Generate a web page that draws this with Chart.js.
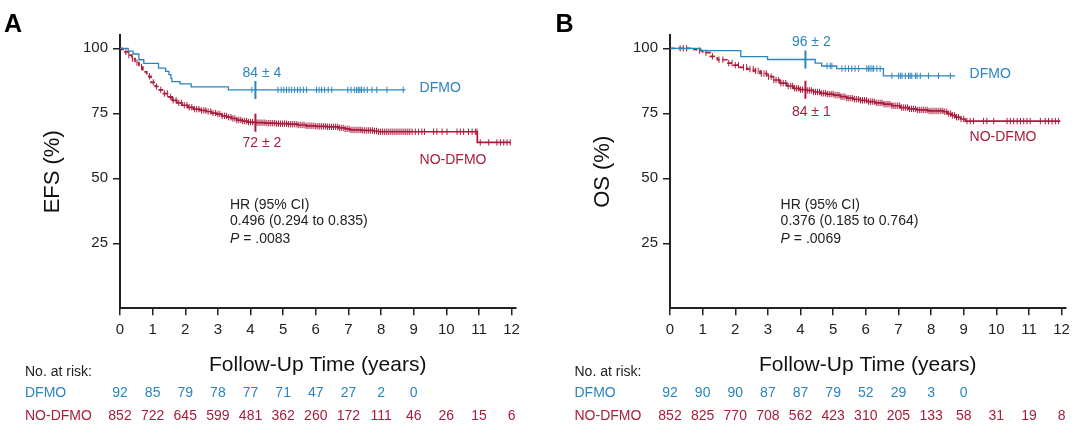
<!DOCTYPE html>
<html>
<head>
<meta charset="utf-8">
<script src="https://cdn.jsdelivr.net/npm/chart.js@4.4.1/dist/chart.umd.min.js"></script>
<style>
    body { margin: 0; background: #fff; width: 1080px; height: 436px; overflow: hidden; position: relative; }
    canvas { position: absolute; top: 0; }
    #chart-efs { left: 0; }
    #chart-os { left: 540px; }
</style>
</head>
<body>
<canvas id="chart-efs" width="540" height="436"></canvas>
<canvas id="chart-os" width="540" height="436"></canvas>
<script>
// axis ticks / risk table time points
const xTicks = [0, 1, 2, 3, 4, 5, 6, 7, 8, 9, 10, 11, 12];
const yTicks = [25, 50, 75, 100];
const riskTimes = [0, 1, 2, 3, 4, 5, 6, 7, 8, 9, 10, 11, 12];
const markerTime = 4.15;

// A: event-free survival, DFMO
const efsDfmoTimes = [0, 0.25, 0.40, 0.58, 0.73, 1.18, 1.40, 1.50, 1.56, 1.59, 1.84, 2.18, 3.32];
const efsDfmoSurv = [100, 98.9, 97.8, 95.6, 94.2, 92.4, 91.1, 89.9, 88.4, 87.2, 86.3, 85.2, 84.0];
const efsDfmoEnd = 8.75;
const efsDfmoCensor = [4.04, 4.84, 4.94, 5.02, 5.10, 5.18, 5.26, 5.35, 5.44, 5.52, 5.62, 5.72,
    6.02, 6.10, 6.18, 6.27, 6.38, 6.49, 6.98, 7.08, 7.18, 7.25, 7.30, 7.35, 7.40, 7.48, 7.58,
    7.72, 7.87, 8.18, 8.68];

// A: event-free survival, NO-DFMO
const efsNoTimes = [0, 0.05, 0.15, 0.26, 0.36, 0.46, 0.58, 0.70, 0.82, 0.95, 1.08, 1.20, 1.33,
    1.46, 1.60, 1.74, 1.90, 2.08, 2.25, 2.45, 2.64, 2.80, 2.96, 3.12, 3.27, 3.42, 3.58, 3.75,
    3.92, 4.10, 4.45, 4.80, 5.15, 5.45, 5.70, 6.00, 6.35, 6.70, 6.90, 7.05, 7.40, 7.75, 7.92, 10.95];
const efsNoSurv = [100, 99.6, 98.6, 97.4, 96.0, 94.5, 92.8, 90.9, 89.2, 86.9, 85.3, 84.0, 82.6,
    81.3, 80.0, 79.0, 78.1, 77.3, 76.6, 76.1, 75.7, 75.1, 74.7, 74.0, 73.5, 73.0, 72.4, 72.0,
    71.6, 71.4, 71.2, 71.0, 70.8, 70.5, 70.2, 70.0, 69.8, 69.4, 69.0, 68.6, 68.4, 68.2, 67.9, 63.8];
const efsNoEnd = 11.97;
const efsNoCensor = [0.18, 0.27, 0.38, 0.52, 0.66, 0.90, 1.02, 1.12, 1.25, 1.36, 1.45, 1.55,
    1.63, 1.72, 1.80, 1.88, 1.97, 2.05, 2.12, 2.20, 2.28, 2.35, 2.42, 2.50, 2.57, 2.63, 2.70,
    2.78, 2.85, 2.93, 3.00, 3.06, 3.13, 3.20, 3.26, 3.33, 3.40, 3.46, 3.52, 3.58, 3.64, 3.70,
    3.76, 3.82, 3.88, 3.94, 4.00, 4.06, 4.20, 4.26, 4.32, 4.38, 4.44, 4.50, 4.56, 4.62, 4.68,
    4.74, 4.80, 4.86, 4.92, 4.98, 5.04, 5.10, 5.16, 5.22, 5.28, 5.34, 5.40, 5.46, 5.52, 5.58,
    5.64, 5.70, 5.76, 5.82, 5.88, 5.94, 6.00, 6.06, 6.12, 6.18, 6.24, 6.30, 6.36, 6.42, 6.48,
    6.54, 6.60, 6.66, 6.72, 6.78, 6.84, 6.90, 6.96, 7.02, 7.08, 7.14, 7.20, 7.26, 7.32, 7.38,
    7.44, 7.50, 7.56, 7.62, 7.68, 7.74, 7.80, 7.86, 7.92, 7.98, 8.04, 8.10, 8.16, 8.22, 8.28,
    8.34, 8.40, 8.46, 8.52, 8.58, 8.64, 8.70, 8.76, 8.82, 8.88, 8.95, 9.05, 9.15, 9.25, 9.33,
    9.61, 9.71, 9.87, 10.02, 10.33, 10.43, 10.53, 10.68, 10.79, 10.89, 10.94, 11.04, 11.30,
    11.55, 11.66, 11.76, 11.86, 11.96];

// B: overall survival, DFMO
const osDfmoTimes = [0, 0.94, 2.17, 2.99, 4.45, 4.65, 5.11, 6.54];
const osDfmoSurv = [100, 99.1, 96.8, 95.7, 94.3, 93.2, 92.2, 89.4];
const osDfmoEnd = 8.74;
const osDfmoCensor = [4.81, 4.91, 4.96, 5.27, 5.37, 5.47, 5.57, 5.67, 5.78, 6.03, 6.08, 6.13,
    6.19, 6.24, 6.34, 6.44, 6.80, 7.00, 7.06, 7.11, 7.21, 7.31, 7.36, 7.41, 7.52, 7.57, 7.67,
    7.92, 8.23, 8.59];

// B: overall survival, NO-DFMO
const osNoTimes = [0, 0.62, 0.82, 1.00, 1.23, 1.45, 1.74, 1.95, 2.15, 2.36, 2.56, 2.76, 2.97,
    3.17, 3.37, 3.58, 3.78, 3.98, 4.16, 4.40, 4.60, 4.80, 5.01, 5.22, 5.42, 5.62, 5.83, 6.03,
    6.28, 6.54, 6.80, 7.06, 7.30, 7.57, 7.90, 8.38, 8.50, 8.62, 8.75, 8.90, 9.05];
const osNoSurv = [100, 99.6, 99.1, 98.3, 96.9, 95.6, 94.3, 93.5, 92.7, 92.0, 91.3, 90.3, 89.1,
    87.8, 86.6, 85.5, 84.6, 84.1, 83.8, 83.2, 82.7, 82.4, 82.0, 81.4, 80.8, 80.4, 80.0, 79.5,
    79.0, 78.5, 77.9, 77.2, 76.7, 76.3, 75.9, 75.6, 74.9, 74.2, 73.5, 72.8, 72.0];
const osNoEnd = 11.96;
const osNoCensor = [0.31, 0.41, 0.51, 0.90, 1.10, 1.30, 1.50, 1.62, 1.80, 1.90, 2.00, 2.10,
    2.25, 2.35, 2.45, 2.55, 2.62, 2.70, 2.80, 2.88, 2.95, 3.02, 3.10, 3.18, 3.25, 3.33, 3.40,
    3.47, 3.55, 3.62, 3.70, 3.76, 3.82, 3.88, 3.94, 4.00, 4.06, 4.22, 4.28, 4.34, 4.40, 4.46,
    4.52, 4.58, 4.64, 4.70, 4.76, 4.82, 4.88, 4.94, 5.00, 5.06, 5.12, 5.18, 5.24, 5.30, 5.36,
    5.42, 5.48, 5.54, 5.60, 5.66, 5.72, 5.78, 5.84, 5.90, 5.96, 6.02, 6.08, 6.14, 6.20, 6.26,
    6.32, 6.38, 6.44, 6.50, 6.56, 6.62, 6.68, 6.74, 6.80, 6.86, 6.92, 6.98, 7.04, 7.10, 7.16,
    7.22, 7.28, 7.34, 7.40, 7.46, 7.52, 7.58, 7.64, 7.70, 7.76, 7.82, 7.88, 7.94, 8.00, 8.06,
    8.12, 8.18, 8.24, 8.30, 8.36, 8.42, 8.48, 8.54, 8.60, 8.66, 8.72, 8.78, 8.84, 8.92, 9.00,
    9.10, 9.20, 9.30, 9.61, 9.71, 9.92, 10.33, 10.43, 10.53, 10.64, 10.74, 10.84, 10.94, 11.04,
    11.35, 11.50, 11.60, 11.71, 11.81, 11.91];

// numbers at risk
const efsRiskDfmo = [92, 85, 79, 78, 77, 71, 47, 27, 2, 0];
const efsRiskNo = [852, 722, 645, 599, 481, 362, 260, 172, 111, 46, 26, 15, 6];
const osRiskDfmo = [92, 90, 90, 87, 87, 79, 52, 29, 3, 0];
const osRiskNo = [852, 825, 770, 708, 562, 423, 310, 205, 133, 58, 31, 19, 8];

const efsEstimates = ['84 \u00b1 4', '72 \u00b1 2'];
const osEstimates = ['96 \u00b1 2', '84 \u00b1 1'];
const efsHR = ['HR (95% CI)', '0.496 (0.294 to 0.835)', '.0083'];
const osHR = ['HR (95% CI)', '0.376 (0.185 to 0.764)', '.0069'];

const BLUE = '#2a85bd';
const RED = '#ab1b3b';
const INK = '#222';
const FONT = "'Liberation Sans', Arial, sans-serif";

function stepValue(times, surv, t) {
    let v = surv[0];
    for (let i = 0; i < times.length; i++) {
        if (times[i] <= t) v = surv[i];
    }
    return v;
}

function kmPoints(times, surv, end) {
    const pts = times.map((t, i) => ({ x: t, y: surv[i] }));
    pts.push({ x: end, y: surv[surv.length - 1] });
    return pts;
}

function censorPoints(times, surv, censor) {
    return censor.map(t => ({ x: t, y: stepValue(times, surv, t) }));
}

const annotate = {
    id: 'annotate',
    afterDraw(chart) {
        const p = chart.options.plugins.annotate;
        const ctx = chart.ctx;
        const xs = chart.scales.x, ys = chart.scales.y;
        ctx.save();

        // panel letter
        ctx.fillStyle = '#000';
        ctx.font = 'bold 25px ' + FONT;
        ctx.textAlign = 'left';
        ctx.textBaseline = 'alphabetic';
        ctx.fillText(p.letter, p.letterX, 32);

        // estimates at the marker and curve names
        ctx.font = '14px ' + FONT;
        ctx.textBaseline = 'middle';
        ctx.textAlign = 'center';
        ctx.fillStyle = BLUE;
        ctx.fillText(p.estimates[0], xs.getPixelForValue(p.estX), ys.getPixelForValue(p.estY[0]));
        ctx.fillStyle = RED;
        ctx.fillText(p.estimates[1], xs.getPixelForValue(p.estX), ys.getPixelForValue(p.estY[1]));
        ctx.textAlign = 'left';
        ctx.fillStyle = BLUE;
        ctx.fillText('DFMO', xs.getPixelForValue(p.nameX), ys.getPixelForValue(p.nameY[0]));
        ctx.fillStyle = RED;
        ctx.fillText('NO-DFMO', xs.getPixelForValue(p.nameX), ys.getPixelForValue(p.nameY[1]));

        // hazard ratio block
        ctx.fillStyle = INK;
        const hx = xs.getPixelForValue(p.hrX);
        ctx.fillText(p.hr[0], hx, ys.getPixelForValue(39.8));
        ctx.fillText(p.hr[1], hx, ys.getPixelForValue(33.4));
        const py = ys.getPixelForValue(26.7);
        ctx.font = 'italic 14px ' + FONT;
        ctx.fillText('P', hx, py);
        const pw = ctx.measureText('P').width;
        ctx.font = '14px ' + FONT;
        ctx.fillText(' = ' + p.hr[2], hx + pw, py);

        // numbers at risk
        ctx.fillStyle = INK;
        ctx.fillText('No. at risk:', p.riskX, 372);
        ctx.fillStyle = BLUE;
        ctx.fillText('DFMO', p.riskX, 393);
        ctx.fillStyle = RED;
        ctx.fillText('NO-DFMO', p.riskX, 416);
        ctx.textAlign = 'center';
        p.riskDfmo.forEach((n, i) => {
            ctx.fillStyle = BLUE;
            ctx.fillText(String(n), xs.getPixelForValue(riskTimes[i]), 393);
        });
        p.riskNo.forEach((n, i) => {
            ctx.fillStyle = RED;
            ctx.fillText(String(n), xs.getPixelForValue(riskTimes[i]), 416);
        });
        ctx.restore();
    }
};

function buildChart(id, cfg) {
    const dfmoLine = kmPoints(cfg.dfmoTimes, cfg.dfmoSurv, cfg.dfmoEnd);
    const noLine = kmPoints(cfg.noTimes, cfg.noSurv, cfg.noEnd);
    const markers = [
        { x: markerTime, y: stepValue(cfg.dfmoTimes, cfg.dfmoSurv, markerTime) },
        { x: markerTime, y: stepValue(cfg.noTimes, cfg.noSurv, markerTime) }
    ];

    return new Chart(document.getElementById(id), {
        type: 'line',
        data: {
            datasets: [
                {
                    data: markers, showLine: false, pointStyle: 'line', pointRotation: 90,
                    pointRadius: 9, pointBorderWidth: 2, pointBorderColor: [BLUE, RED]
                },
                {
                    data: censorPoints(cfg.dfmoTimes, cfg.dfmoSurv, cfg.dfmoCensor), showLine: false,
                    pointStyle: 'line', pointRotation: 90, pointRadius: 3.2, pointBorderWidth: 1,
                    pointBorderColor: BLUE
                },
                {
                    data: dfmoLine, stepped: true, borderColor: BLUE, borderWidth: 1.3,
                    pointRadius: 0, fill: false
                },
                {
                    data: censorPoints(cfg.noTimes, cfg.noSurv, cfg.noCensor), showLine: false,
                    pointStyle: 'line', pointRotation: 90, pointRadius: 3.2, pointBorderWidth: 1,
                    pointBorderColor: RED
                },
                {
                    data: noLine, stepped: true, borderColor: RED, borderWidth: 1.7,
                    pointRadius: 0, fill: false,
                    segment: { borderDash: c => (c.p0.parsed.x < cfg.dashUntil ? [5, 3] : undefined) }
                }
            ]
        },
        options: {
            responsive: false,
            animation: false,
            events: [],
            layout: { padding: { left: cfg.padLeft, right: cfg.padRight, top: 35.3, bottom: 60.25 } },
            plugins: {
                legend: { display: false },
                tooltip: { enabled: false },
                annotate: cfg.notes
            },
            scales: {
                x: {
                    type: 'linear', min: 0, max: 12.12,
                    afterFit: s => { s.height = 67.45; },
                    afterBuildTicks: s => { s.ticks = xTicks.map(v => ({ value: v })); },
                    ticks: { color: INK, font: { size: 15, family: FONT }, padding: 6, maxRotation: 0 },
                    grid: { drawOnChartArea: false, tickLength: 7, color: INK, lineWidth: 1.5 },
                    border: { color: INK, width: 2 },
                    title: {
                        display: true, text: 'Follow-Up Time (years)', color: '#111',
                        font: { size: 21, family: FONT, lineHeight: 1 }, padding: 0
                    }
                },
                y: {
                    min: 0, max: 105,
                    afterFit: s => { s.width = 78; },
                    afterBuildTicks: s => { s.ticks = yTicks.map(v => ({ value: v })); },
                    ticks: { color: INK, font: { size: 15, family: FONT }, padding: 5 },
                    grid: { drawOnChartArea: false, tickLength: 7, color: INK, lineWidth: 1.5 },
                    border: { color: INK, width: 2 },
                    title: {
                        display: true, text: cfg.yTitle, color: '#111',
                        font: { size: 22, family: FONT, lineHeight: 1 }, padding: 0
                    }
                }
            }
        },
        plugins: [annotate]
    });
}

buildChart('chart-efs', {
    dfmoTimes: efsDfmoTimes, dfmoSurv: efsDfmoSurv, dfmoEnd: efsDfmoEnd, dfmoCensor: efsDfmoCensor,
    noTimes: efsNoTimes, noSurv: efsNoSurv, noEnd: efsNoEnd, noCensor: efsNoCensor,
    dashUntil: 1.4, padLeft: 42, padRight: 24.5, yTitle: 'EFS (%)',
    notes: {
        letter: 'A', letterX: 4, estimates: efsEstimates, estX: 4.35, estY: [90.5, 63.7],
        nameX: 9.18, nameY: [84.8, 57.0], hr: efsHR, hrX: 3.37, riskX: 25,
        riskDfmo: efsRiskDfmo, riskNo: efsRiskNo
    }
});

buildChart('chart-os', {
    dfmoTimes: osDfmoTimes, dfmoSurv: osDfmoSurv, dfmoEnd: osDfmoEnd, dfmoCensor: osDfmoCensor,
    noTimes: osNoTimes, noSurv: osNoSurv, noEnd: osNoEnd, noCensor: osNoCensor,
    dashUntil: 3.0, padLeft: 52, padRight: 14.5, yTitle: 'OS (%)',
    notes: {
        letter: 'B', letterX: 15.5, estimates: osEstimates, estX: 4.33, estY: [102.2, 75.6],
        nameX: 9.18, nameY: [90.0, 65.8], hr: osHR, hrX: 3.39, riskX: 34.5,
        riskDfmo: osRiskDfmo, riskNo: osRiskNo
    }
});
</script>
</body>
</html>
